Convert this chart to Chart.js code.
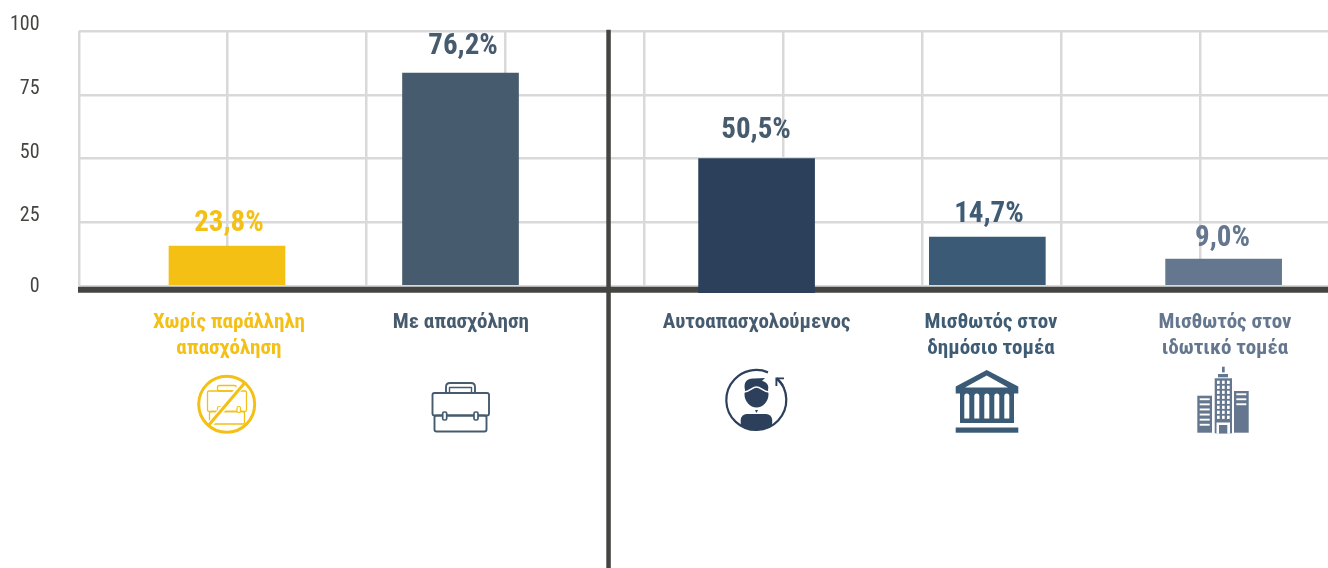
<!DOCTYPE html>
<html lang="el">
<head>
<meta charset="utf-8">
<title>Απασχόληση</title>
<script src="https://cdn.jsdelivr.net/npm/chart.js@4/dist/chart.umd.js"></script>
<style>html,body{margin:0;padding:0;background:#fff}canvas{display:block}</style>
</head>
<body>
<canvas id="c" width="1328" height="568"></canvas>
<script>
// ---- data ----
const categories = [
  ["Χωρίς παράλληλη", "απασχόληση"],
  ["Με απασχόληση"],
  ["Αυτοαπασχολούμενος"],
  ["Μισθωτός στον", "δημόσιο τομέα"],
  ["Μισθωτός στον", "ιδωτικό τομέα"]
];
const shownLabels = ["23,8%", "76,2%", "50,5%", "14,7%", "9,0%"];
const barHeights = [15.7, 83.5, 50, 19.2, 10.6];
const barSlots = [1, 2.68, 4.81, 6.47, 8.17];
const barColors = ["#f4c014", "#465b6e", "#2c405c", "#3a5a75", "#64778f"];
const textColors = ["#f4c014", "#465b6e", "#465b6e", "#3f5c75", "#64778f"];
const valueLabelSlots = [1.014, 2.698, 4.806, 6.482, 8.162];
const valueLabelLevels = [24.6, 94.0, 60.7, 28.1, 18.6];
const categorySlots = [1.014, 2.683, 4.81, 6.496, 8.18];
const yTicks = [100, 75, 50, 25, 0];
const gridSlots = [-0.0647, 1, 2, 3, 4, 5, 6, 7, 8];
const xMin = -0.0647, xMax = 8.9209;
const dividerSlot = 3.745;
const FONT = "Roboto";

const points = barSlots.map((x, i) => ({x, y: barHeights[i]}));

// ---- pictograms ----
function roundRect(c, x, y, w, h, r) { c.beginPath(); c.roundRect(x, y, w, h, r); }
const icons = {
  noWork(c, col) {
    c.strokeStyle = col; c.lineWidth = 1.3; c.lineJoin = "round";
    roundRect(c, 207.5, 391, 39, 20.5, 1.5); c.stroke();
    roundRect(c, 209.5, 411.5, 35, 12.5, 1.5); c.stroke();
    roundRect(c, 217.5, 385.5, 19, 5.5, 2); c.stroke();
    c.fillStyle = "#fff"; c.lineWidth = 1.2;
    roundRect(c, 217.5, 406.5, 3.5, 6, 1.5); c.fill(); c.stroke();
    roundRect(c, 237, 406.5, 3.5, 6, 1.5); c.fill(); c.stroke();
    c.strokeStyle = "#fff"; c.lineWidth = 6;
    c.beginPath(); c.moveTo(245, 381); c.lineTo(208, 427); c.stroke();
    c.strokeStyle = col; c.lineWidth = 3;
    c.beginPath(); c.moveTo(245.5, 382); c.lineTo(208, 426); c.stroke();
    c.beginPath(); c.arc(226.7, 404.3, 28, 0, Math.PI * 2); c.stroke();
  },
  work(c, col) {
    c.strokeStyle = col; c.lineWidth = 1.9; c.lineJoin = "round";
    roundRect(c, 432.5, 393, 56.5, 22.5, 2); c.stroke();
    roundRect(c, 434.5, 415.5, 52, 16, 2); c.stroke();
    c.beginPath(); c.moveTo(446, 392.5); c.lineTo(446, 387); c.quadraticCurveTo(446, 383, 450, 383);
    c.lineTo(471, 383); c.quadraticCurveTo(475, 383, 475, 387); c.lineTo(475, 392.5); c.stroke();
    c.lineWidth = 1.4;
    c.beginPath(); c.moveTo(449.5, 392); c.lineTo(449.5, 387.5); c.lineTo(471.5, 387.5); c.lineTo(471.5, 392); c.stroke();
    c.fillStyle = "#fff"; c.lineWidth = 1.7;
    roundRect(c, 442.7, 412, 4, 8, 1.5); c.fill(); c.stroke();
    roundRect(c, 474, 412, 4, 8, 1.5); c.fill(); c.stroke();
  },
  self(c, col) {
    c.strokeStyle = col; c.fillStyle = col; c.lineWidth = 2.2;
    c.save();
    c.beginPath(); c.arc(756.3, 400, 30, 0, Math.PI * 2); c.clip();
    roundRect(c, 740.7, 414, 31.5, 20, 6); c.fill();
    c.restore();
    c.beginPath(); c.arc(756.3, 400, 30, -Math.PI * 0.26, Math.PI * 1.5 + 0.4); c.stroke();
    c.lineWidth = 1.9; c.lineCap = "butt";
    c.beginPath(); c.moveTo(784, 378.4); c.lineTo(776.4, 378.4); c.lineTo(776.4, 386); c.stroke();
    c.beginPath(); c.moveTo(776.4, 378.4); c.lineTo(783, 385.5); c.stroke();
    // face + hair
    c.beginPath(); c.ellipse(756.5, 394, 12, 13.5, 0, 0, Math.PI * 2); c.fill();
    c.beginPath(); c.moveTo(745, 390); c.bezierCurveTo(743, 381, 748, 378, 754, 378.5);
    c.lineTo(765, 378); c.lineTo(762, 381); c.bezierCurveTo(768, 382, 769, 387, 768, 390); c.closePath(); c.fill();
    c.strokeStyle = "#fff"; c.lineWidth = 1.5;
    c.beginPath(); c.moveTo(744, 392); c.bezierCurveTo(750, 392, 752, 387, 756.5, 387);
    c.bezierCurveTo(761, 387, 763, 392, 769, 392); c.stroke();
    c.fillStyle = col; c.beginPath(); c.moveTo(755, 410); c.lineTo(758, 410); c.lineTo(756.5, 413); c.closePath(); c.fill();
  },
  bank(c, col) {
    c.fillStyle = col;
    c.beginPath(); c.moveTo(986.7, 370); c.lineTo(1018.3, 386.5); c.lineTo(1018.3, 393.5);
    c.lineTo(955.7, 393.5); c.lineTo(955.7, 386.5); c.closePath(); c.fill();
    c.fillStyle = "#fff";
    c.beginPath(); c.moveTo(986.7, 375.5); c.lineTo(1008, 387.5); c.lineTo(965, 387.5); c.closePath(); c.fill();
    c.fillStyle = col; c.fillRect(960, 393, 54, 30);
    c.fillStyle = "#fff";
    [964.3, 974.3, 984.3, 994.3, 1004.3].forEach(x => { c.beginPath(); c.roundRect(x, 393.5, 5, 25, [2.5, 2.5, 0, 0]); c.fill(); });
    c.fillStyle = col; c.fillRect(955.7, 427.5, 62.6, 5.2);
  },
  towers(c, col) {
    c.fillStyle = col;
    c.fillRect(1222, 366.7, 2.7, 5.7);
    c.fillRect(1218, 374, 10, 3.3);
    c.fillRect(1214.7, 378.3, 17.3, 55);
    c.fillRect(1197.3, 395.7, 14.7, 37);
    c.fillRect(1234, 391, 14.7, 41.7);
    c.fillStyle = "#fff";
    [1217, 1222, 1227].forEach(x => { for (let k = 0; k < 8; k++) c.fillRect(x, 380.7 + k * 5, 2.7, 3.2); });
    c.fillRect(1216.5, 422.5, 13.5, 11);
    c.fillStyle = col; c.fillRect(1219, 425, 8.3, 8.5);
    c.fillStyle = "#fff";
    for (let k = 0; k < 6; k++) c.fillRect(1199.7, 398.3 + k * 5.1, 10, 1.9);
    for (let k = 0; k < 3; k++) c.fillRect(1236.3, 393.3 + k * 5, 10, 1.9);
  }
};
const iconOrder = ["noWork", "work", "self", "bank", "towers"];

// Pin the plot box: the reference's plot area is fixed, independent of label sizes.
const AREA = { left: 79, right: 1328, top: 31, bottom: 286, canvasBottom: 568 };
const pinLayoutPlugin = {
  id: "pinLayout",
  afterLayout(chart) {
    const a = AREA, s = chart.scales;
    chart.chartArea = { left: a.left, right: a.right, top: a.top, bottom: a.bottom,
                        width: a.right - a.left, height: a.bottom - a.top };
    [s.x, s.x2].forEach(b => {
      b.left = a.left; b.right = a.right; b.width = a.right - a.left; b.top = a.bottom;
      b.bottom = b === s.x ? a.bottom : a.canvasBottom; b.height = b.bottom - b.top;
      b.paddingLeft = b.paddingRight = 0;
      b.configure();
    });
    [s.y, s.y2].forEach(b => {
      b.top = a.top; b.bottom = a.bottom; b.height = a.bottom - a.top;
      b.right = a.left; b.left = b === s.y ? a.left : 0; b.width = b.right - b.left;
      b.paddingTop = b.paddingBottom = 0;
      b.configure();
    });
  }
};

const valueLabelPlugin = {
  id: "valueLabels",
  afterDatasetsDraw(chart) {
    const c = chart.ctx, xs = chart.scales.x, ys = chart.scales.y;
    c.save();
    c.font = "bold condensed 29px " + FONT;
    c.textAlign = "center"; c.textBaseline = "middle";
    shownLabels.forEach((t, i) => {
      c.fillStyle = textColors[i];
      c.fillText(t, xs.getPixelForValue(valueLabelSlots[i]), ys.getPixelForValue(valueLabelLevels[i]));
    });
    c.restore();
  },
  afterDraw(chart) {
    const c = chart.ctx;
    iconOrder.forEach((n, i) => { c.save(); icons[n](c, barColors[i]); c.restore(); });
  }
};

new Chart(document.getElementById("c"), {
  data: {
    datasets: [
      { type: "bar", label: "Ποσοστό", order: 3, grouped: false, clip: false, barThickness: 116,
        xAxisID: "x", yAxisID: "y",
        data: points.map((p, i) => i === 2 ? {x: p.x, y: null} : p),
        backgroundColor: barColors },
      { type: "bar", label: "Αυτοαπασχολούμενος", order: 1, grouped: false, clip: false, barThickness: 116,
        xAxisID: "x", yAxisID: "y",
        data: [{x: points[2].x, y: [-2.6, points[2].y]}],
        backgroundColor: barColors[2] },
      { type: "line", label: "Άξονας", order: 2, clip: false, pointRadius: 0, borderColor: "#444541", borderWidth: 6,
        xAxisID: "x", yAxisID: "y",
        data: [{x: -0.072, y: -1.45}, {x: xMax, y: -1.45}] },
      { type: "line", label: "Διαχωριστικό", order: 0, clip: false, pointRadius: 0, borderColor: "#444541", borderWidth: 4.5,
        xAxisID: "x", yAxisID: "y",
        data: [{x: dividerSlot, y: 100.5}, {x: dividerSlot, y: -110.6}] }
    ]
  },
  options: {
    responsive: false, animation: false,
    plugins: { legend: { display: false }, tooltip: { enabled: false }, title: { display: false } },
    scales: {
      x: {
        type: "linear", position: "bottom", min: xMin, max: xMax, offset: false,
        afterBuildTicks(s) { s.ticks = gridSlots.map(value => ({value})); },
        ticks: { display: false },
        border: { display: false },
        grid: { color: "#d9d9d9", lineWidth: 2.5, drawTicks: false, offset: false }
      },
      x2: {
        type: "linear", position: "bottom", min: xMin, max: xMax, offset: false,
        afterBuildTicks(s) { s.ticks = categorySlots.map(value => ({value})); },
        border: { display: false },
        grid: { display: false, drawTicks: false, offset: false },
        ticks: {
          autoSkip: false, maxRotation: 0, minRotation: 0, padding: 24,
          color: ctx => textColors[ctx.index],
          font: { family: FONT, size: 21, weight: "bold condensed", lineHeight: 1.24 },
          callback: (v, i) => categories[i]
        }
      },
      y: {
        type: "linear", position: "left", min: 0, max: 100,
        afterBuildTicks(s) { s.ticks = yTicks.map(value => ({value})); },
        ticks: { display: false },
        border: { display: false },
        grid: { color: "#d9d9d9", lineWidth: 2.5, drawTicks: false }
      },
      y2: {
        type: "linear", position: "left", min: 0, max: 100,
        afterBuildTicks(s) { s.ticks = yTicks.map(value => ({value: value === 0 ? -2.6 : value})); },
        border: { display: false },
        grid: { display: false, drawTicks: false },
        ticks: {
          padding: 39.5, labelOffset: -6, color: "#444541", autoSkip: false,
          font: { family: FONT, size: 20, weight: "condensed" },
          callback: v => String(Math.max(0, v))
        }
      }
    }
  },
  plugins: [pinLayoutPlugin, valueLabelPlugin]
});
</script>
</body>
</html>
